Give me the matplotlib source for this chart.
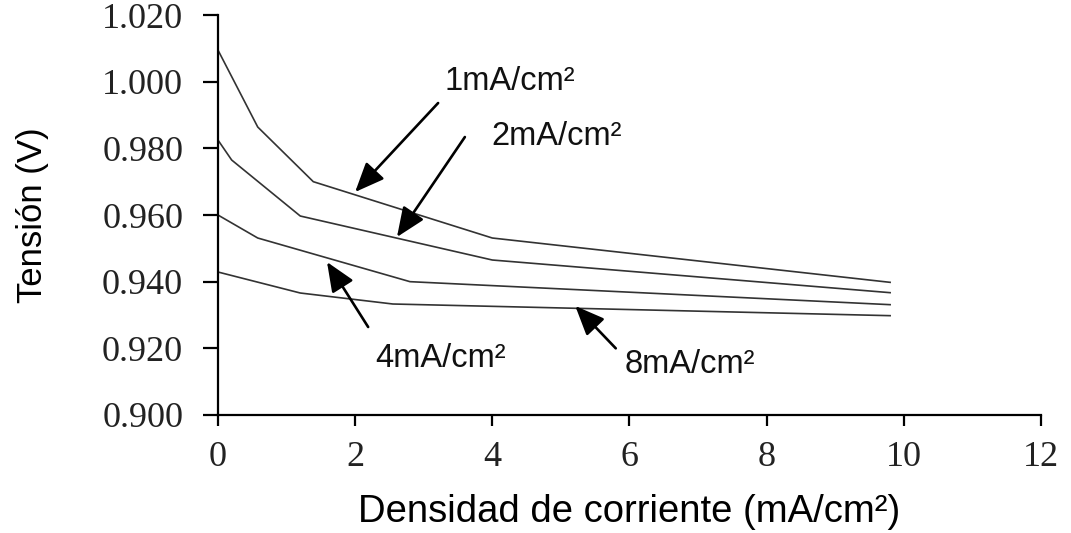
#!/usr/bin/env python3
# Tension vs densidad de corriente - curvas 1/2/4/8 mA/cm2
import matplotlib; matplotlib.use("Agg")
import matplotlib.pyplot as plt

# ---------------------- datos ----------------------
x_1ma = [0.0, 0.58, 1.39, 4.0, 9.8]
y_1ma = [1.0095, 0.9864, 0.9700, 0.9531, 0.9398]

x_2ma = [0.0, 0.2, 1.2, 4.0, 9.8]
y_2ma = [0.9825, 0.9765, 0.9597, 0.9465, 0.9367]

x_4ma = [0.0, 0.58, 2.8, 9.8]
y_4ma = [0.9600, 0.9531, 0.9400, 0.9331]

x_8ma = [0.0, 1.2, 2.55, 9.8]
y_8ma = [0.9429, 0.9366, 0.9333, 0.9298]

labels = ["1mA/cm²", "2mA/cm²", "4mA/cm²", "8mA/cm²"]
label_xy = [(4.26, 0.9975), (4.94, 0.9810), (3.24, 0.9144), (6.88, 0.9126)]
arrow_tail = [(3.21, 0.9936), (3.60, 0.9834), (2.19, 0.9264), (5.80, 0.9200)]
arrow_head = [(2.00, 0.9669), (2.61, 0.9534), (1.59, 0.9459), (5.21, 0.9327)]

xticks = [0, 2, 4, 6, 8, 10, 12]
yticks = [0.900, 0.920, 0.940, 0.960, 0.980, 1.000, 1.020]

SANS = ["Liberation Sans", "DejaVu Sans"]
SERIF = ["Liberation Serif", "DejaVu Serif"]

# ---------------------- figura ----------------------
fig = plt.figure(figsize=(10.71, 5.33), dpi=100)
ax = fig.add_axes([0.2035, 0.2214, 0.7685, 0.7504])

for xs, ys in [(x_1ma, y_1ma), (x_2ma, y_2ma), (x_4ma, y_4ma), (x_8ma, y_8ma)]:
    ax.plot(xs, ys, color="#333333", lw=1.2)

for txt, (tx, ty), tail, head in zip(labels, label_xy, arrow_tail, arrow_head):
    ax.text(tx, ty, txt, ha="center", va="baseline", fontsize=23.5,
            family=SANS, color="#111111")
    ax.annotate("", xy=head, xytext=tail,
                arrowprops=dict(arrowstyle="-|>,head_length=0.9,head_width=0.38",
                                color="black", lw=1.9, shrinkA=0, shrinkB=0,
                                mutation_scale=20))

ax.set_xlim(0, 12); ax.set_ylim(0.900, 1.020)
ax.set_xticks(xticks)
ax.set_yticks(yticks)
ax.set_xticklabels([str(v) for v in xticks], family=SERIF, fontsize=26)
ax.set_yticklabels([f"{v:.3f}" for v in yticks], family=SERIF, fontsize=26)

ax.spines["top"].set_visible(False); ax.spines["right"].set_visible(False)
for s in ("left", "bottom"):
    ax.spines[s].set_linewidth(1.6); ax.spines[s].set_color("black")
ax.tick_params(axis="y", direction="out", length=11, width=1.6, pad=14, colors="black")
ax.tick_params(axis="x", direction="out", length=8, width=1.6, pad=11, colors="black")
for lbl in ax.get_xticklabels() + ax.get_yticklabels():
    lbl.set_color("#222222")

ax.set_xlabel("Densidad de corriente (mA/cm²)", family=SANS, fontsize=27.5, labelpad=14)
ax.set_ylabel("Tensión (V)", family=SANS, fontsize=25, labelpad=38)

fig.savefig("out.png", dpi=100, facecolor="white")
